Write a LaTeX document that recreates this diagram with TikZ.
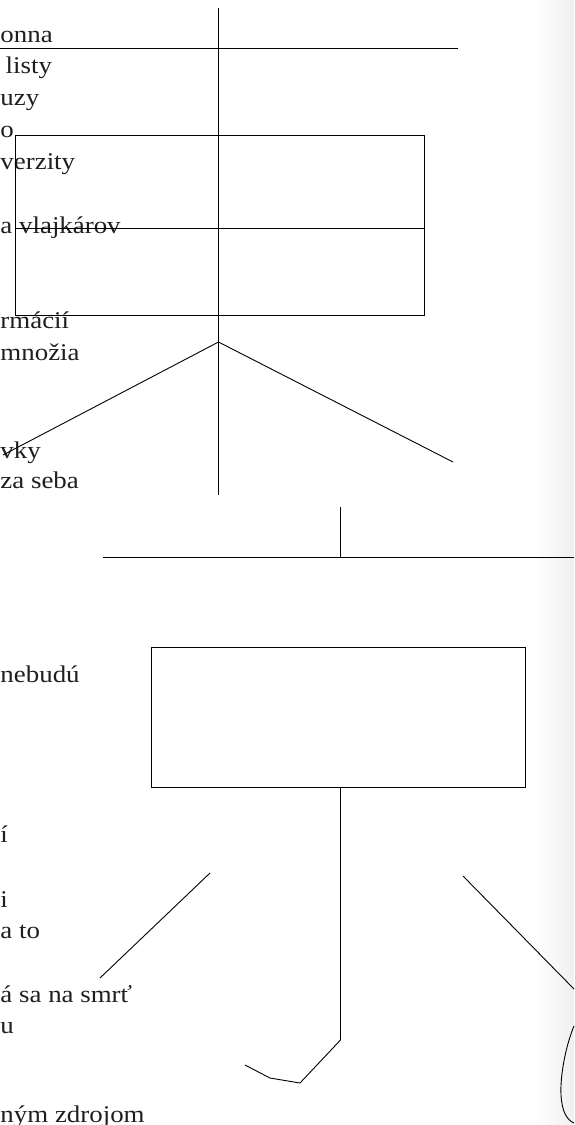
\documentclass[tikz,border=0pt]{standalone}
\usepackage{fontspec}
\setmainfont{Liberation Serif}[FakeStretch=1.12]
\begin{document}
\begin{tikzpicture}[x=1pt,y=-1pt,line width=0.9pt,
  txt/.style={anchor=base east,inner sep=0pt,outer sep=0pt,text=black!88,font=\fontsize{24}{28}\selectfont},
  txtw/.style={txt,anchor=base west},
  box/.style={draw,inner sep=0pt,outer sep=0pt,anchor=north west},
  ln/.style={draw=black,line width=0.9pt}]
\useasboundingbox (0,0) rectangle (574,1125);
% soft shadow on the right edge
\shade[left color=white,right color=black!6,draw=none] (534,0) rectangle (574,1125);

% text fragments at the left edge
\node[txtw] (t1) at (0.5,42) {onna};
\node[txt] (t2) at (52,73) {listy};
\node[txtw] (t3) at (0.5,105) {uzy};
\node[txtw] (t4) at (0.5,137) {o};
\node[txtw] (t5) at (0.5,169) {verzity};
\node[txtw] (t6) at (0.5,233) {a vlajkárov};
\node[txtw] (t7) at (0.5,328) {rmácií};
\node[txtw] (t8) at (0.5,360) {množia};
\node[txtw] (t9) at (0.5,458) {vky};
\node[txtw] (t10) at (0.5,488) {za seba};
\node[txtw] (t11) at (0.5,682) {nebudú};
\node[txtw] (t12) at (0.5,842) {í};
\node[txtw] (t13) at (0.5,907) {i};
\node[txtw] (t14) at (0.5,938) {a to};
\node[txtw] (t15) at (0.5,1002) {á sa na smrť};
\node[txtw] (t16) at (0.5,1033) {u};
\node[txtw] (t17) at (0.5,1122) {ným zdrojom};

% upper structure
\coordinate (vt) at (218.5,8);
\coordinate (vb) at (218.5,495);
\coordinate (h1l) at (0,48);
\coordinate (h1r) at (458,48);
\node[box,minimum width=409pt,minimum height=180pt] (r1) at (15,135) {};
\coordinate (m1l) at (15,228);
\coordinate (m1r) at (424,228);
\coordinate (fk) at (218.5,342);
\coordinate (fl) at (3,455);
\coordinate (fr) at (453,462);
\draw[ln] (vt) -- (vb);
\draw[ln] (h1l) -- (h1r);
\draw[ln] (m1l) -- (m1r);
\draw[ln] (fl) -- (fk) -- (fr);

% lower structure
\coordinate (v2t) at (340.5,507);
\coordinate (v2b) at (340.5,557);
\coordinate (h2l) at (103,557);
\coordinate (h2r) at (574,557);
\draw[ln] (v2t) -- (v2b);
\draw[ln] (h2l) -- (h2r);
\node[box,minimum width=374pt,minimum height=140pt] (r2) at (151,647) {};
\coordinate (r2b) at (340.5,787);
\coordinate (hk1) at (340.5,1040);
\coordinate (hk2) at (300,1083);
\coordinate (hk3) at (270,1078);
\coordinate (hk4) at (245,1065);
\draw[ln] (r2b) -- (hk1) -- (hk2) -- (hk3) -- (hk4);
\coordinate (d1a) at (210,873);
\coordinate (d1b) at (100,978);
\draw[ln] (d1a) -- (d1b);
\coordinate (d2a) at (463,876);
\coordinate (d2b) at (574,989);
\draw[ln] (d2a) -- (d2b);
\coordinate (c1) at (574,1026);
\coordinate (c2) at (561,1095);
\coordinate (c3) at (574,1123);
\draw[ln] (c1) .. controls (566,1045) and (560,1075) .. (c2)
          .. controls (562,1112) and (567,1120) .. (c3);
\end{tikzpicture}
\end{document}
